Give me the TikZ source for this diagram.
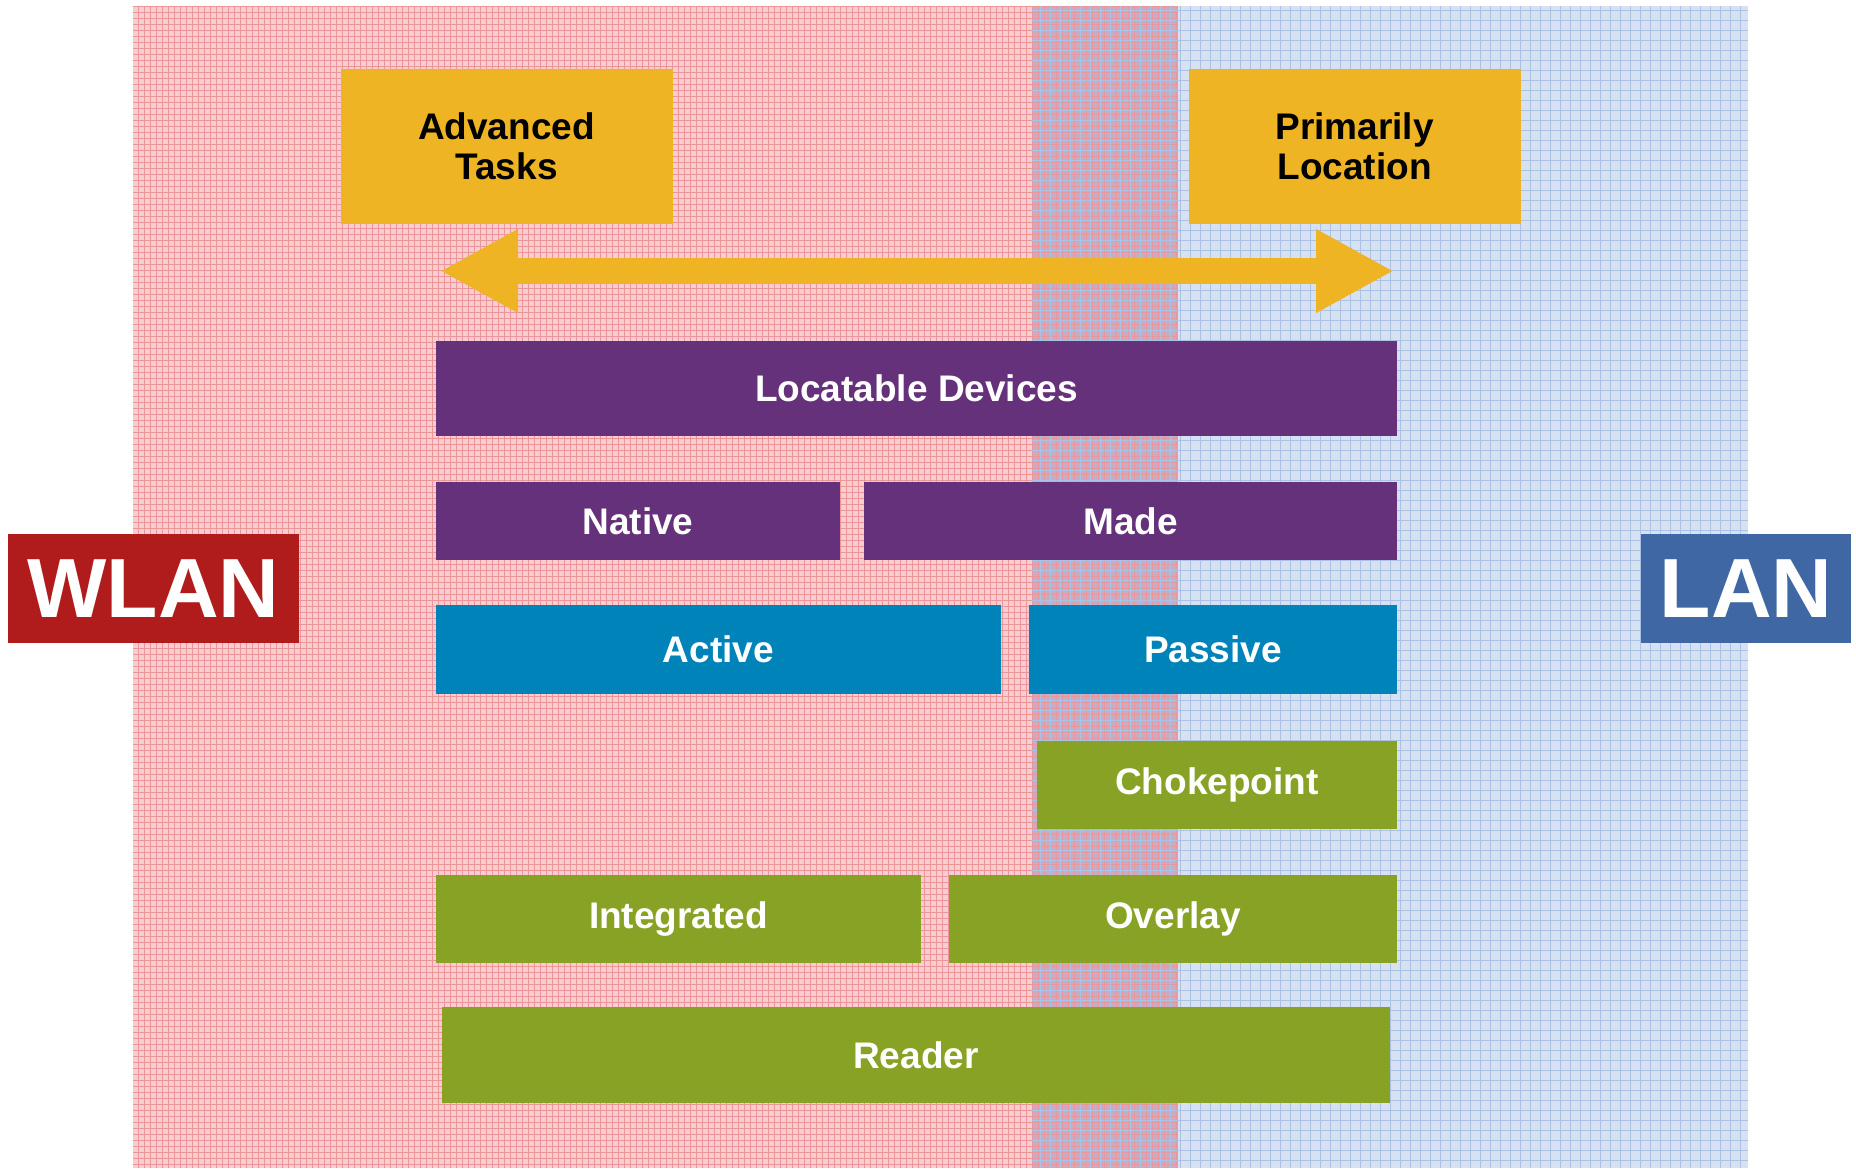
\documentclass[tikz,border=0pt]{standalone}
\usepackage{fontspec}
\setmainfont{Liberation Sans}
\usetikzlibrary{
  arrows.meta,
  positioning,
}
\definecolor{gold}{RGB}{238,180,36}
\definecolor{plum}{RGB}{101,49,122}
\definecolor{ocean}{RGB}{0,131,185}
\definecolor{olive}{RGB}{136,162,37}
\definecolor{wlanred}{RGB}{176,27,27}
\definecolor{lanblue}{RGB}{63,103,163}
\definecolor{redbg}{RGB}{246,206,209}
\definecolor{bluebg}{RGB}{214,225,242}
\definecolor{mixbg}{RGB}{200,172,194}
\definecolor{redline}{RGB}{236,150,156}
\definecolor{blueline}{RGB}{172,194,228}
\tikzset{
  >={Triangle[length=78pt,width=78pt]},
}

\begin{document}
\begin{tikzpicture}[x=1pt,y=-1pt,
  box/.style={rectangle,inner sep=0pt,outer sep=0pt,text=white,align=center,
    font=\fontsize{37}{40}\selectfont\bfseries},
  goal/.style={box,fill=gold,text=black,minimum width=332,minimum height=155},
  net/.style={rectangle,inner sep=0pt,text=white,minimum height=109,
    font=\fontsize{84}{84}\selectfont\bfseries},
]
\useasboundingbox (0,0) rectangle (1856,1170);

% background: wlan side, lan side, overlap
\fill[redbg] (133,6) rectangle (1178,1168);
\fill[bluebg] (1178,6) rectangle (1748,1168);
\fill[mixbg] (1032,6) rectangle (1178,1168);
\draw[redline,line width=0.8pt,step=6pt] (133,6) grid (1178,1168);
\draw[blueline,line width=0.8pt,step=10pt] (1032,6) grid (1748,1168);

% goals
\node[goal] (adv)  at (506.5,146.5) {Advanced\\Tasks};
\node[goal] (prim) at (1354.5,146.5) {Primarily\\Location};

\coordinate (tipL) at (440,271);
\coordinate (tipR) at (1394,271);
\draw[gold,line width=26pt,<->] (tipL) -- (tipR);

% devices
\node[box,fill=plum,minimum width=961,minimum height=95] (loc) at (916.5,388.5) {Locatable Devices};
\node[box,fill=plum,minimum width=404,minimum height=78] (native) at (638,521) {Native};
\node[box,fill=plum,minimum width=533,minimum height=78] (made) at (1130.5,521) {Made};

% tags
\node[box,fill=ocean,minimum width=565,minimum height=89] (active) at (718.5,649.5) {Active};
\node[box,fill=ocean,minimum width=368,minimum height=89] (passive) at (1213,649.5) {Passive};

% infrastructure
\node[box,fill=olive,minimum width=360,minimum height=88] (choke) at (1217,785) {Chokepoint};
\node[box,fill=olive,minimum width=485,minimum height=88] (integ) at (678.5,919) {Integrated};
\node[box,fill=olive,minimum width=448,minimum height=88] (overlay) at (1173,919) {Overlay};
\node[box,fill=olive,minimum width=948,minimum height=96] (reader) at (916,1055) {Reader};

% sides
\node[net,fill=wlanred,minimum width=291] (wlan) at (153.5,588.5) {WLAN};
\node[net,fill=lanblue,minimum width=210] (lan) at (1746,588.5) {LAN};

\end{tikzpicture}
\end{document}
